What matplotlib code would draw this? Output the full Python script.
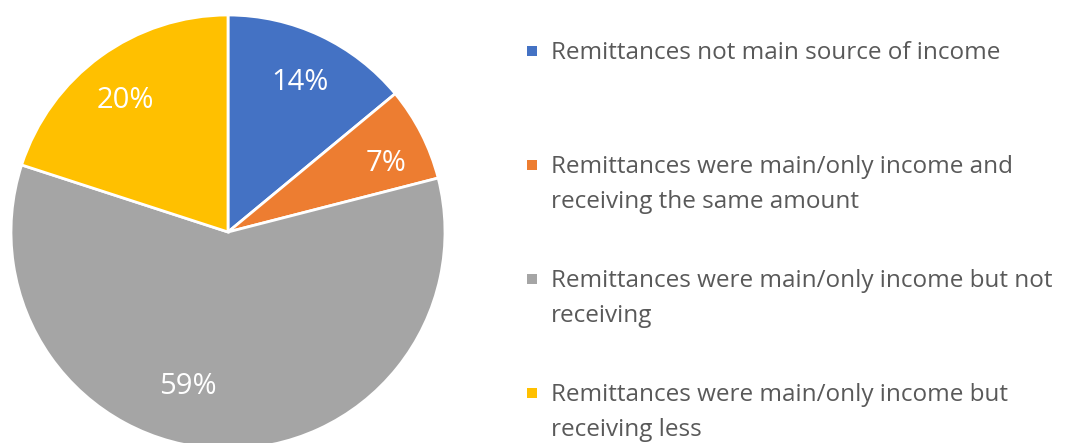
import numpy as np
import matplotlib
matplotlib.use('Agg')
import matplotlib.pyplot as plt

categories = ['Remittances not main source of income',
              'Remittances were main/only income and\nreceiving the same amount',
              'Remittances were main/only income but not\nreceiving',
              'Remittances were main/only income but\nreceiving less']
shares = [14, 7, 59, 20]
colors = ['#4472C4', '#ED7D31', '#A5A5A5', '#FFC000']
label_shift = [0, 2.6, 13, -1.3]      # degrees, clockwise nudge of the % labels
label_radius = [0.78, 0.80, 0.72, 0.78]

plt.rcParams['font.family'] = ['Open Sans', 'DejaVu Sans']

fig = plt.figure(figsize=(10.68, 4.43), dpi=100)
ax = fig.add_axes([11 / 1068, -6 / 443, 434 / 1068, 434 / 443])

wedges, _ = ax.pie(shares, colors=colors, startangle=90, counterclock=False,
                   radius=1, wedgeprops=dict(edgecolor='white', linewidth=2))
ax.set_xlim(-1, 1)
ax.set_ylim(-1, 1)
ax.set_aspect('equal')
ax.axis('off')

for w, v, s, r in zip(wedges, shares, label_shift, label_radius):
    ang = np.deg2rad((w.theta1 + w.theta2) / 2 - s)
    ax.text(r * np.cos(ang), r * np.sin(ang) - 0.015, f'{v}%', color='white',
            fontsize=21, ha='center', va='center')

# legend, drawn by hand in pixel coords so the marker sits on the first line
lax = fig.add_axes([0, 0, 1, 1])
lax.set_xlim(0, 1068)
lax.set_ylim(443, 0)
lax.axis('off')
baselines = [59, 173, 287, 401]
for lab, c, y in zip(categories, colors, baselines):
    lax.scatter([532], [y - 8], marker='s', s=55, color=c, linewidths=0)
    for i, line in enumerate(lab.split('\n')):
        lax.text(551, y + 35 * i, line, color='#595959', fontsize=17.5,
                 ha='left', va='baseline')

fig.savefig('out.png', dpi=100)
